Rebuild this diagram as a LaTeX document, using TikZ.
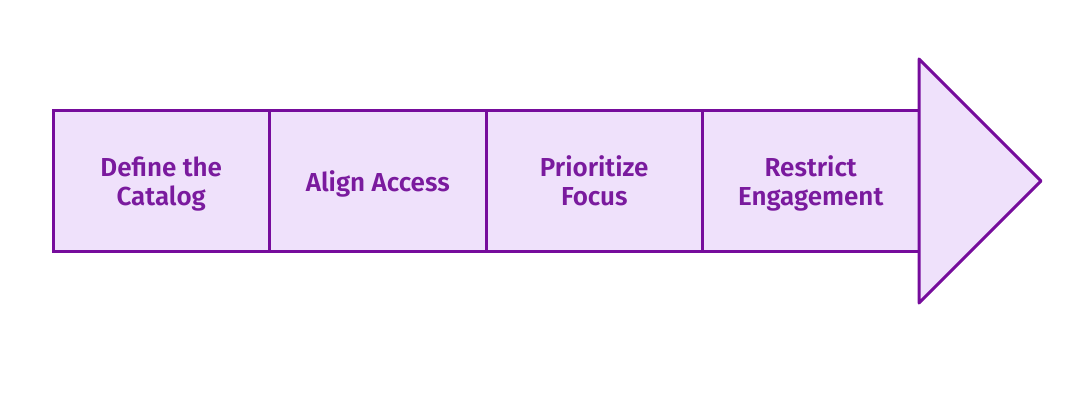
\documentclass[tikz,border=0pt]{standalone}
\usepackage{fontspec}
\setmainfont{Fira Sans}[BoldFont={* SemiBold}]
\usetikzlibrary{positioning}
\definecolor{stepline}{HTML}{760C9C}
\definecolor{stepfill}{HTML}{EFE1FB}
\definecolor{steptext}{HTML}{7A1A9E}

\begin{document}
\begin{tikzpicture}[x=1pt,y=-1pt,
    stepbox/.style={draw=stepline,fill=stepfill,line width=3pt,
      minimum width=216.5pt,minimum height=140pt,inner sep=0pt,outer sep=0pt,
      align=center,text=steptext,text depth=0pt,
      font=\fontsize{26}{29}\selectfont\bfseries}]
    \useasboundingbox (0,0) rectangle (1070,409);
    \node[stepbox,anchor=north west] (define) at (53,111) {Define the\\Catalog};
    \node[stepbox,right=0pt of define] (align) {Align Access};
    \node[stepbox,right=0pt of align] (focus) {Prioritize\\Focus};
    \node[stepbox,right=0pt of focus] (restrict) {Restrict\\Engagement};
    % arrow head
    \coordinate (head top) at (919,59);
    \coordinate (head tip) at (1041,181);
    \coordinate (head bottom) at (919,303);
    \draw[stepline,fill=stepfill,line width=3pt,line join=round]
      (head top) -- (head tip) -- (head bottom) -- cycle;
  \end{tikzpicture}
\end{document}
